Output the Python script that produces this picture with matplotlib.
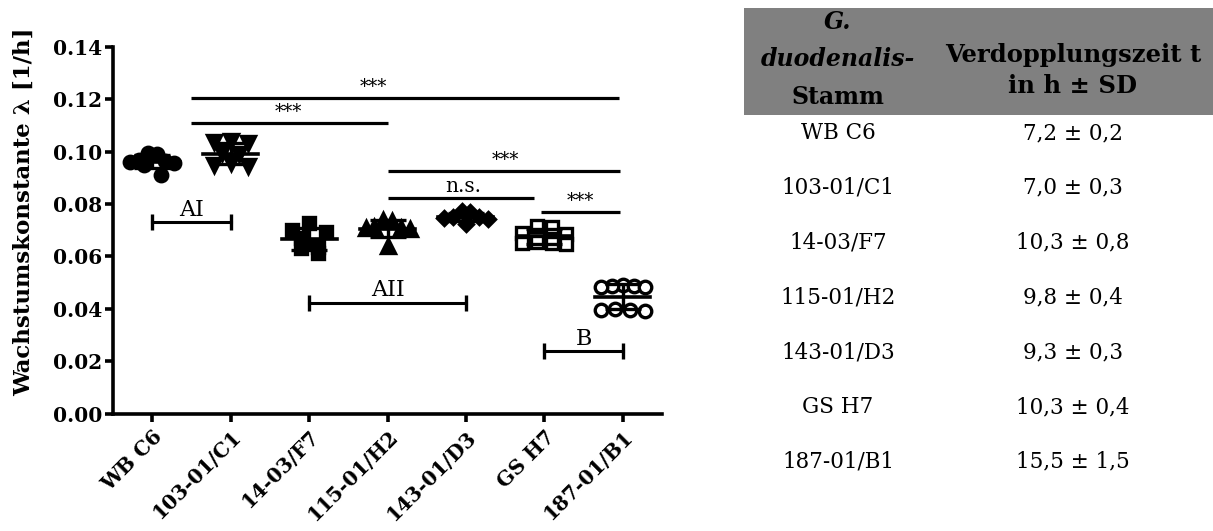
import numpy as np
import matplotlib.pyplot as plt
from matplotlib.patches import Rectangle

plt.rcParams['font.family'] = ['DejaVu Serif']

strains = ["WB C6", "103-01/C1", "14-03/F7", "115-01/H2", "143-01/D3", "GS H7", "187-01/B1"]

# growth constants per replicate, 1/h
wb_c6 = [0.0994, 0.0990, 0.0968, 0.0965, 0.0962, 0.0958, 0.0950, 0.0912]
c1_103 = [0.1040, 0.1036, 0.1032, 0.0995, 0.0990, 0.0955, 0.0950, 0.0946]
f7_14 = [0.0727, 0.0700, 0.0693, 0.0672, 0.0636, 0.0633, 0.0614]
h2_115 = [0.0738, 0.0735, 0.0712, 0.0710, 0.0708, 0.0705, 0.0638]
d3_143 = [0.0772, 0.0768, 0.0752, 0.0749, 0.0746, 0.0743, 0.0722]
gs_h7 = [0.0718, 0.0714, 0.0690, 0.0687, 0.0654, 0.0652, 0.0650, 0.0648]
b1_187 = [0.0490, 0.0488, 0.0486, 0.0484, 0.0482, 0.0398, 0.0396, 0.0394, 0.0392]
groups = [wb_c6, c1_103, f7_14, h2_115, d3_143, gs_h7, b1_187]

markers = ["o", "v", "s", "^", "D", "s", "o"]
filled = [True, True, True, True, True, False, False]

# significance lines: start, end, height, label, label position
sig_x0 = [0.5, 0.5, 3.0, 3.0, 4.96]
sig_x1 = [5.95, 3.0, 5.96, 4.87, 5.96]
sig_y = [0.1207, 0.1111, 0.0927, 0.0824, 0.0771]
sig_text = ["***", "***", "***", "n.s.", "***"]
sig_text_x = [2.82, 1.74, 4.5, 3.96, 5.46]

# cluster brackets
br_x0 = [0, 2, 5]
br_x1 = [1, 4, 6]
br_y = [0.0730, 0.0424, 0.0239]
br_text = ["AI", "AII", "B"]

# doubling time table
tab_header = [["G.", "duodenalis-", "Stamm"], ["Verdopplungszeit t", "in h ± SD"]]
doubling = ["7,2 ± 0,2", "7,0 ± 0,3", "10,3 ± 0,8", "9,8 ± 0,4", "9,3 ± 0,3", "10,3 ± 0,4", "15,5 ± 1,5"]

W, H = 1213, 531
fig = plt.figure(figsize=(W / 100, H / 100), dpi=100)
ax = fig.add_axes([113 / W, 1 - 413.5 / H, (662 - 113) / W, (413.5 - 47) / H])
ax.set_xlim(-0.5, 6.5)
ax.set_ylim(0, 0.14)


def dot_offsets(x0, vals, ax, row_px=10, step_px=17, span_px=44):
    # points closer than one marker go into one row, squeezed to a max width;
    # inside a row the highest point sits in the middle, the rest fan outwards
    pts = ax.transData.transform([(x0, v) for v in vals])
    order = np.argsort(-pts[:, 1])
    rows, cur = [], [order[0]]
    for k in order[1:]:
        if abs(pts[k, 1] - pts[cur[0], 1]) < row_px:
            cur.append(k)
        else:
            rows.append(cur)
            cur = [k]
    rows.append(cur)
    xs = np.zeros(len(vals))
    for r in rows:
        n = len(r)
        step = step_px if n < 2 else min(step_px, span_px / (n - 1))
        slots = sorted(np.arange(n) - (n - 1) / 2, key=lambda s: (abs(s), s))
        for k, s in zip(r, slots):
            xs[k] = pts[k, 0] + s * step
    inv = ax.transData.inverted()
    return [inv.transform((x, y))[0] for x, y in zip(xs, pts[:, 1])]


for i, vals in enumerate(groups):
    xs = dot_offsets(i, vals, ax)
    face = "black" if filled[i] else "white"
    ms = {"o": 9, "v": 9.5, "s": 8.5, "^": 9.5, "D": 7.5}[markers[i]]
    ax.plot(xs, vals, ls="none", marker=markers[i], ms=ms, mfc=face, mec="black",
            mew=2.4, zorder=3)
    m, sd = np.mean(vals), np.std(vals, ddof=1)
    ax.plot([i - 0.35, i + 0.35], [m, m], color="black", lw=2.6, zorder=4)
    ax.errorbar(i, m, yerr=sd, fmt="none", ecolor="black", elinewidth=2.4,
                capsize=13, capthick=2.4, zorder=4)

for x0, x1, y, t, tx in zip(sig_x0, sig_x1, sig_y, sig_text, sig_text_x):
    ax.plot([x0, x1], [y, y], color="black", lw=2.3, solid_capstyle="butt")
    fs = 14.5 if t == "n.s." else 13
    ax.annotate(t, (tx, y), xytext=(0, 1), textcoords="offset points",
                ha="center", va="bottom", fontsize=fs)

for x0, x1, y, t in zip(br_x0, br_x1, br_y, br_text):
    ax.plot([x0, x1], [y, y], color="black", lw=2.2, marker="|", ms=11, mew=2.4)
    ax.annotate(t, ((x0 + x1) / 2, y), xytext=(0, 1), textcoords="offset points",
                ha="center", va="bottom", fontsize=16)

for s in ["top", "right"]:
    ax.spines[s].set_visible(False)
for s in ["left", "bottom"]:
    ax.spines[s].set_linewidth(2.6)
ax.set_yticks(np.arange(0, 0.141, 0.02))
ax.set_yticklabels([f"{v:.2f}" for v in np.arange(0, 0.141, 0.02)])
ax.set_xticks(range(len(strains)))
ax.set_xticklabels(strains, rotation=45, ha="right", rotation_mode="anchor")
ax.tick_params(width=2.6, length=6, labelsize=14.5)
ax.tick_params(axis="y", pad=2)
for lab in ax.get_xticklabels() + ax.get_yticklabels():
    lab.set_fontweight("bold")
ax.set_ylabel("Wachstumskonstante λ [1/h]", fontsize=16.5, fontweight="bold")
ax.yaxis.set_label_coords(-0.143, 0.55)

# table of doubling times
tab = fig.add_axes([0, 0, 1, 1])
tab.set_xlim(0, W)
tab.set_ylim(H, 0)
tab.axis("off")
tab.add_patch(Rectangle((744, 8), W - 744, 107, facecolor="#808080", edgecolor="none"))
col_x = [838, 1073]
tab.text(col_x[0], 22, tab_header[0][0], ha="center", va="center", fontsize=17,
         fontweight="bold", style="italic")
tab.text(col_x[0], 59, tab_header[0][1], ha="center", va="center", fontsize=17,
         fontweight="bold", style="italic")
tab.text(col_x[0], 97, tab_header[0][2], ha="center", va="center", fontsize=17,
         fontweight="bold")
tab.text(col_x[1], 55, tab_header[1][0], ha="center", va="center", fontsize=17.5,
         fontweight="bold")
tab.text(col_x[1], 86, tab_header[1][1], ha="center", va="center", fontsize=17.5,
         fontweight="bold")
for i, (s, d) in enumerate(zip(strains, doubling)):
    y = 133 + 54.8 * i
    tab.text(col_x[0], y, s, ha="center", va="center", fontsize=15.5)
    tab.text(col_x[1], y, d, ha="center", va="center", fontsize=15.5)

fig.savefig("out.png", dpi=100)
